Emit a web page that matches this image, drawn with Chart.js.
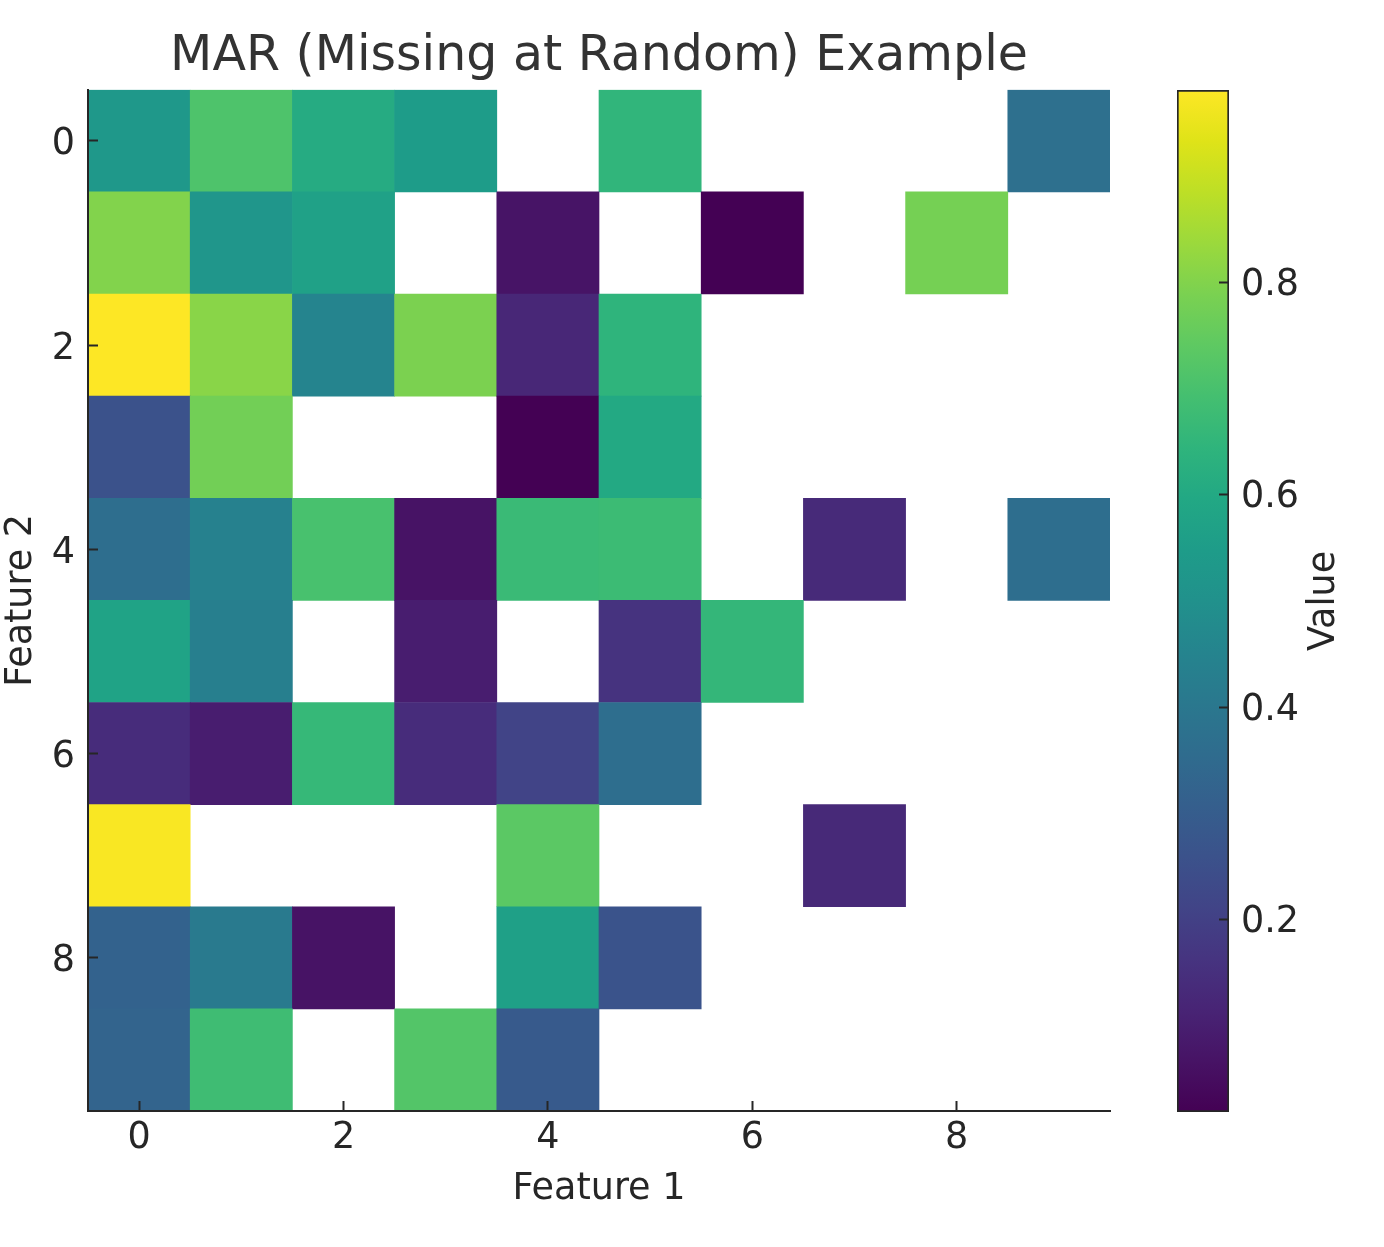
<!DOCTYPE html>
<html>
<head>
<meta charset="utf-8">
<script src="https://cdn.jsdelivr.net/npm/chart.js@4.4.1/dist/chart.umd.min.js"></script>
<style>
  html, body { margin: 0; padding: 0; background: #fff; }
  #wrap { position: relative; width: 1384px; height: 1247px; }
  #heat { position: absolute; left: 0; top: 0; }
  #cbar { position: absolute; left: 1150px; top: 0; }
</style>
</head>
<body>
<div id="wrap">
  <canvas id="heat" width="1150" height="1247"></canvas>
  <canvas id="cbar" width="234" height="1247"></canvas>
</div>
<script>
// one array per row (Feature 2 = row index, Feature 1 = column index), null = missing
const row0 = [0.53, 0.71, 0.61, 0.55, null, 0.65, null, null, null, 0.37]
const row1 = [0.80, 0.52, 0.57, null, 0.07, null, 0.019, null, 0.78, null]
const row2 = [0.981, 0.81, 0.45, 0.79, 0.125, 0.645, null, null, null, null]
const row3 = [0.26, 0.775, null, null, 0.02, 0.60, null, null, null, null]
const row4 = [0.365, 0.44, 0.70, 0.067, 0.67, 0.675, null, 0.134, null, 0.365]
const row5 = [0.577, 0.43, null, 0.096, null, 0.16, 0.655, null, null, null]
const row6 = [0.14, 0.096, 0.66, 0.14, 0.21, 0.365, null, null, null, null]
const row7 = [0.975, null, null, null, 0.735, null, null, 0.13, null, null]
const row8 = [0.32, 0.41, 0.067, null, 0.565, 0.264, null, null, null, null]
const row9 = [0.325, 0.68, null, 0.72, 0.29, null, null, null, null, null]
const rows = [row0, row1, row2, row3, row4, row5, row6, row7, row8, row9]

const xTicks = [0, 2, 4, 6, 8]
const yTicks = [0, 2, 4, 6, 8]
const cbarTicks = [0.2, 0.4, 0.6, 0.8]

const chartTitle = 'MAR (Missing at Random) Example'
const xLabel = 'Feature 1'
const yLabel = 'Feature 2'
const cbarLabel = 'Value'

// viridis, sampled every 0.05
const viridis = ['#440154', '#471365', '#482475', '#463480', '#414487', '#3b528b', '#355f8d',
    '#2f6c8e', '#2a788e', '#25848e', '#21918c', '#1e9c89', '#22a884', '#2fb47c', '#44bf70',
    '#5ec962', '#7ad151', '#9bd93c', '#bddf26', '#dfe318', '#fde725']

const allValues = rows.flat().filter(v => v !== null)
const vmin = Math.min(...allValues)
const vmax = Math.max(...allValues)

function hexToRgb(h) {
    return [parseInt(h.slice(1, 3), 16), parseInt(h.slice(3, 5), 16), parseInt(h.slice(5, 7), 16)]
}

function colorAt(t) {
    t = Math.max(0, Math.min(1, t))
    const pos = t * (viridis.length - 1)
    const i = Math.min(Math.floor(pos), viridis.length - 2)
    const f = pos - i
    const a = hexToRgb(viridis[i])
    const b = hexToRgb(viridis[i + 1])
    const c = a.map((v, k) => Math.round(v + (b[k] - v) * f))
    return `rgb(${c[0]}, ${c[1]}, ${c[2]})`
}

function colorFor(v) {
    return colorAt((v - vmin) / (vmax - vmin))
}

Chart.defaults.font.family = '"DejaVu Sans", sans-serif'
Chart.defaults.color = '#262626'
Chart.defaults.animation = false

const ink = '#262626'
const fs = 36.5

const cells = []
rows.forEach((row, r) => {
    row.forEach((v, c) => {
        if (v !== null) cells.push({ x: c, y: [r - 0.5, r + 0.5], v: v })
    })
})

const heat = new Chart(document.getElementById('heat'), {
    type: 'bar',
    data: {
        datasets: [{
            label: cbarLabel,
            data: cells,
            backgroundColor: ctx => ctx.raw ? colorFor(ctx.raw.v) : 'transparent',
            borderWidth: 0,
            barPercentage: 1,
            categoryPercentage: 1,
            grouped: false
        }]
    },
    options: {
        responsive: false,
        layout: { padding: { left: 0, right: 40, top: 0, bottom: 0 } },
        plugins: {
            legend: { display: false },
            tooltip: { enabled: false },
            title: {
                display: true,
                fullSize: false,
                text: chartTitle,
                color: '#333',
                font: { size: 49, weight: 'normal' },
                padding: { top: 28, bottom: 3 }
            }
        },
        scales: {
            x: {
                type: 'linear',
                position: 'bottom',
                min: -0.5,
                max: 9.5,
                offset: false,
                afterBuildTicks: s => { s.ticks = xTicks.map(v => ({ value: v })) },
                afterFit: s => { s.height = 136 },
                ticks: { font: { size: fs }, color: ink, padding: 16, maxRotation: 0 },
                grid: { offset: false, drawOnChartArea: false, tickLength: -10, tickWidth: 2, tickColor: ink, z: 1 },
                border: { color: ink, width: 2, z: 1 },
                title: { display: true, text: xLabel, font: { size: fs }, color: ink, padding: { top: 4, bottom: 36 } }
            },
            y: {
                type: 'linear',
                position: 'left',
                reverse: true,
                min: -0.5,
                max: 9.5,
                afterBuildTicks: s => { s.ticks = yTicks.map(v => ({ value: v })) },
                afterFit: s => { s.width = 88 },
                ticks: { font: { size: fs }, color: ink, padding: 23, labelOffset: 4 },
                grid: { offset: false, drawOnChartArea: false, tickLength: -10, tickWidth: 2, tickColor: ink, z: 1 },
                border: { color: ink, width: 2, z: 1 },
                title: { display: true, text: yLabel, font: { size: fs }, color: ink, padding: { top: 0, bottom: 0 } }
            }
        }
    }
})

// colorbar label reads bottom-to-top, like the reference
const valueLabel = {
    id: 'valueLabel',
    afterDraw(chart) {
        const { ctx, chartArea, scales } = chart
        const s = scales.y
        ctx.save()
        ctx.translate(s.right - 59, (chartArea.top + chartArea.bottom) / 2)
        ctx.rotate(-Math.PI / 2)
        ctx.font = fs + 'px "DejaVu Sans"'
        ctx.fillStyle = ink
        ctx.textAlign = 'center'
        ctx.textBaseline = 'middle'
        ctx.fillText(cbarLabel, 0, 0)
        ctx.restore()
    }
}

const cbar = new Chart(document.getElementById('cbar'), {
    type: 'bar',
    data: {
        labels: [''],
        datasets: [{
            data: [[vmin, vmax]],
            backgroundColor: ctx => {
                const { ctx: c, chartArea } = ctx.chart
                if (!chartArea) return null
                const g = c.createLinearGradient(0, chartArea.bottom, 0, chartArea.top)
                viridis.forEach((col, i) => g.addColorStop(i / (viridis.length - 1), col))
                return g
            },
            borderColor: ink,
            borderWidth: 2,
            borderSkipped: false,
            barPercentage: 1,
            categoryPercentage: 1
        }]
    },
    options: {
        responsive: false,
        layout: { padding: { left: 27, right: 0, top: 90, bottom: 135 } },
        plugins: { legend: { display: false }, tooltip: { enabled: false } },
        scales: {
            x: { display: false },
            y: {
                position: 'right',
                min: vmin,
                max: vmax,
                afterBuildTicks: s => { s.ticks = cbarTicks.map(v => ({ value: v })) },
                afterFit: s => { s.width = 155 },
                ticks: { font: { size: fs }, color: ink, padding: 22, labelOffset: 3 },
                grid: { drawOnChartArea: false, tickLength: -10, tickWidth: 2, tickColor: ink, z: 1 },
                border: { display: false }
            }
        }
    },
    plugins: [valueLabel]
})
</script>
</body>
</html>
